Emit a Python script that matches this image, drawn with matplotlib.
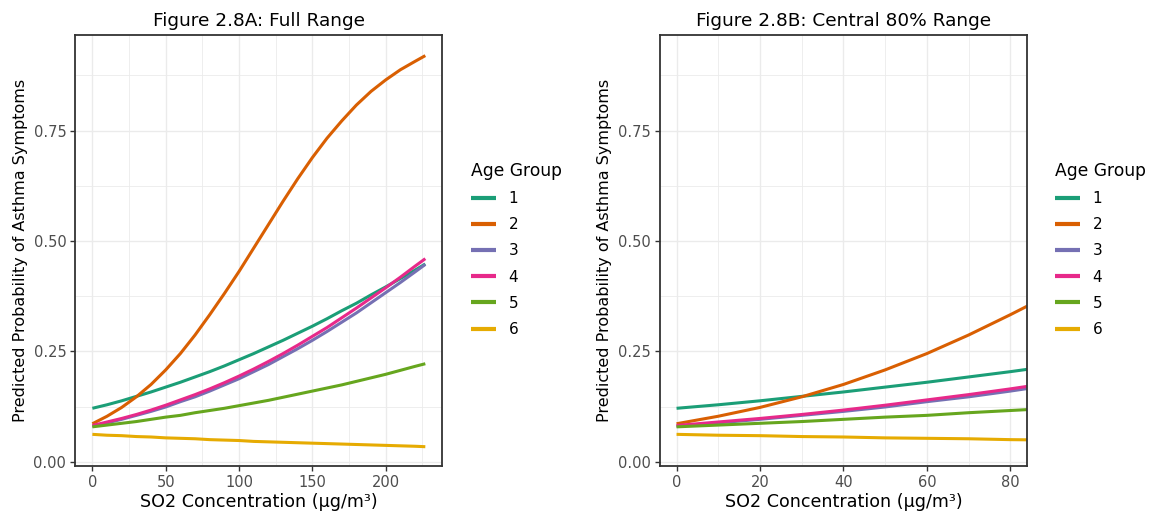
import matplotlib.pyplot as plt
from matplotlib.ticker import MultipleLocator

# predicted probability of asthma symptoms by SO2 level, one curve per age group
so2 = [0, 10, 20, 30, 40, 50, 60, 70, 80, 90, 100, 110, 120,
       130, 140, 150, 160, 170, 180, 190, 200, 210, 220, 227]

age1 = [0.121, 0.129, 0.138, 0.148, 0.158, 0.169, 0.180, 0.192, 0.204, 0.217, 0.231, 0.245,
        0.260, 0.275, 0.291, 0.307, 0.324, 0.342, 0.359, 0.378, 0.396, 0.415, 0.434, 0.448]
age2 = [0.086, 0.103, 0.123, 0.147, 0.175, 0.208, 0.245, 0.287, 0.333, 0.381, 0.431, 0.484,
        0.537, 0.590, 0.641, 0.689, 0.733, 0.772, 0.808, 0.839, 0.865, 0.888, 0.907, 0.920]
age3 = [0.080, 0.088, 0.096, 0.105, 0.114, 0.124, 0.136, 0.147, 0.160, 0.174, 0.188, 0.204,
        0.220, 0.238, 0.256, 0.275, 0.295, 0.316, 0.337, 0.360, 0.383, 0.406, 0.430, 0.447]
age4 = [0.082, 0.090, 0.098, 0.107, 0.117, 0.128, 0.140, 0.152, 0.165, 0.179, 0.194, 0.210,
        0.227, 0.245, 0.264, 0.284, 0.304, 0.326, 0.348, 0.371, 0.394, 0.418, 0.443, 0.460]
age5 = [0.079, 0.083, 0.087, 0.091, 0.096, 0.101, 0.105, 0.111, 0.116, 0.121, 0.127, 0.133,
        0.139, 0.146, 0.153, 0.160, 0.167, 0.174, 0.182, 0.190, 0.198, 0.207, 0.216, 0.222]
age6 = [0.062, 0.060, 0.059, 0.057, 0.056, 0.054, 0.053, 0.052, 0.050, 0.049, 0.048, 0.046,
        0.045, 0.044, 0.043, 0.042, 0.041, 0.040, 0.039, 0.038, 0.037, 0.036, 0.035, 0.034]

groups = ['1', '2', '3', '4', '5', '6']
series = [age1, age2, age3, age4, age5, age6]
colors = ['#1B9E77', '#D95F02', '#7570B3', '#E7298A', '#66A61E', '#E6AB02']

fig = plt.figure(figsize=(11.54, 5.14), dpi=100)
ax_a = fig.add_axes([0.0653, 0.0934, 0.3180, 0.8379])
ax_b = fig.add_axes([0.5718, 0.0934, 0.3185, 0.8379])


def panel(ax, title, xlim, xmajor, legend_x):
    for g, y, c in zip(groups, series, colors):
        ax.plot(so2, y, color=c, lw=2.2, label=g, solid_capstyle='butt')
    ax.set_xlim(*xlim)
    ax.set_ylim(-0.0097, 0.966)
    ax.xaxis.set_major_locator(MultipleLocator(xmajor))
    ax.xaxis.set_minor_locator(MultipleLocator(xmajor / 2))
    ax.yaxis.set_major_locator(MultipleLocator(0.25))
    ax.yaxis.set_minor_locator(MultipleLocator(0.125))
    ax.yaxis.set_major_formatter(lambda v, pos: f'{v:.2f}')
    ax.grid(which='major', color='#EBEBEB', lw=1.0)
    ax.grid(which='minor', color='#EBEBEB', lw=0.6)
    ax.set_axisbelow(True)
    for s in ax.spines.values():
        s.set_color('#333333')
        s.set_linewidth(1.3)
    ax.tick_params(which='major', length=3.5, width=1.0, color='#333333',
                   labelcolor='#4D4D4D', labelsize=10.5, pad=3)
    ax.tick_params(which='minor', length=0)
    ax.set_title(title, fontsize=13.3, pad=7)
    ax.set_xlabel('SO2 Concentration (μg/m³)', fontsize=12.6, labelpad=2)
    ax.set_ylabel('Predicted Probability of Asthma Symptoms', fontsize=11.5, labelpad=4)
    leg = ax.legend(title='Age Group', loc='upper left',
                    bbox_to_anchor=(legend_x / 1154, 1 - 162 / 514),
                    bbox_transform=fig.transFigure, frameon=False, borderpad=0,
                    borderaxespad=0, fontsize=11, title_fontsize=12.3,
                    handlelength=1.65, handletextpad=0.8, labelspacing=0.73,
                    alignment='left')
    for h in leg.get_lines():
        h.set_linewidth(3.0)


panel(ax_a, 'Figure 2.8A: Full Range', (-11.6, 238.6), 50, 471)
panel(ax_b, 'Figure 2.8B: Central 80% Range', (-4.0, 84.1), 20, 1055)

fig.savefig('out.png', dpi=100)
